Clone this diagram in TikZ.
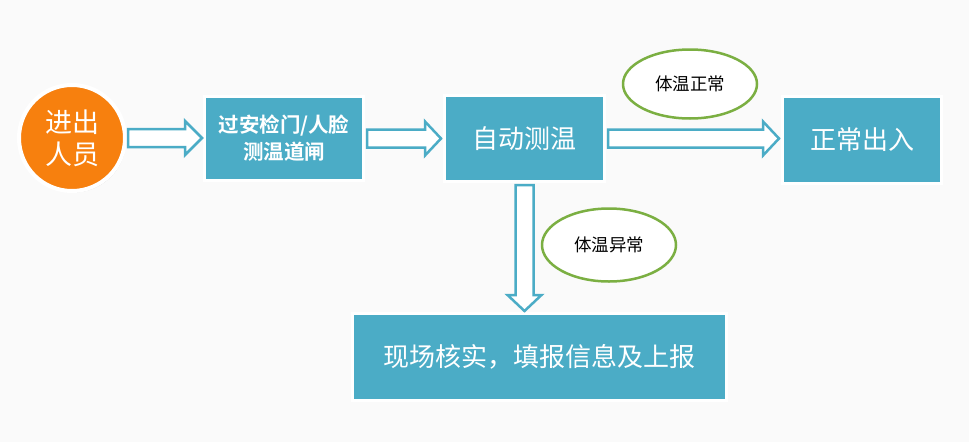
\documentclass[tikz,border=0pt]{standalone}
\usepackage{fontspec}
\newfontfamily\cjk{Noto Sans CJK SC}[BoldFont={Noto Sans CJK SC Bold}]
\usetikzlibrary{shapes.geometric,shadows,calc}
\definecolor{boxblue}{HTML}{4BACC6}
\definecolor{porange}{HTML}{F7800E}
\definecolor{egreen}{HTML}{7BAF42}
\definecolor{bgc}{HTML}{FAFAFA}
\begin{document}
\begin{tikzpicture}[x=1pt,y=-1pt,
  shad/.style={drop shadow={shadow xshift=1.2pt,shadow yshift=-1.5pt,opacity=0.3,fill=black!70}},
  box/.style={rectangle,draw=white,line width=3pt,fill=boxblue,text=white,inner sep=0pt,align=center,shad,
    font=\cjk\fontsize{26}{30}\selectfont},
  person/.style={circle,draw=white,line width=4pt,fill=porange,text=white,inner sep=0pt,align=center,
    minimum size=106pt,shad,font=\cjk\fontsize{27}{32}\selectfont},
  tag/.style={ellipse,draw=egreen,line width=2.5pt,fill=white,inner sep=0pt,text=black,
    font=\cjk\fontsize{17.5}{20}\selectfont},
  fat/.style={draw=boxblue,line width=2.5pt,fill=white,line join=miter}
]
\fill[bgc] (0,0) rectangle (969,442);
\useasboundingbox (0,0) rectangle (969,442);

\node[person] (p) at (72,138) {进出\\人员};
\node[box,minimum width=159pt,minimum height=84pt,font=\cjk\bfseries\fontsize{20.5}{27}\selectfont] (b1) at (284,138.5) {过安检门/人脸\\测温道闸};
\node[box,minimum width=160pt,minimum height=86pt] (b2) at (524.5,138.5) {自动测温};
\node[box,minimum width=159pt,minimum height=87pt] (b3) at (862,140) {正常出入};
\node[box,minimum width=374pt,minimum height=87pt] (b4) at (539.5,357) {现场核实，填报信息及上报};

\node[tag,minimum width=134pt,minimum height=69pt] (t1) at (690,84) {体温正常};
\node[tag,minimum width=134pt,minimum height=73pt] (t2) at (609,245) {体温异常};

\draw[fat] let \p1=(p.east), \p2=(b1.west) in
  (\x1+1pt,\y1+9pt) -- (\x2-18pt,\y1+9pt) -- (\x2-18pt,\y1+17pt) -- (\x2-1pt,\y1)
  -- (\x2-18pt,\y1-17pt) -- (\x2-18pt,\y1-9pt) -- (\x1+1pt,\y1-9pt) -- cycle;
\draw[fat] let \p1=(b1.east), \p2=(b2.west) in
  (\x1+2pt,\y1+9pt) -- (\x2-18pt,\y1+9pt) -- (\x2-18pt,\y1+17pt) -- (\x2-2pt,\y1)
  -- (\x2-18pt,\y1-17pt) -- (\x2-18pt,\y1-9pt) -- (\x1+2pt,\y1-9pt) -- cycle;
\draw[fat] let \p1=(b2.east), \p2=(b3.west) in
  (\x1+2pt,\y1+9pt) -- (\x2-18pt,\y1+9pt) -- (\x2-18pt,\y1+17pt) -- (\x2-2pt,\y1)
  -- (\x2-18pt,\y1-17pt) -- (\x2-18pt,\y1-9pt) -- (\x1+2pt,\y1-9pt) -- cycle;
\draw[fat] let \p1=(b2.south), \p2=(b4.north) in
  (\x1-9pt,\y1-2pt) -- (\x1-9pt,\y2+17pt) -- (\x1-17pt,\y2+17pt) -- (\x1,\y2+1pt)
  -- (\x1+17pt,\y2+17pt) -- (\x1+9pt,\y2+17pt) -- (\x1+9pt,\y1-2pt) -- cycle;
\end{tikzpicture}
\end{document}
